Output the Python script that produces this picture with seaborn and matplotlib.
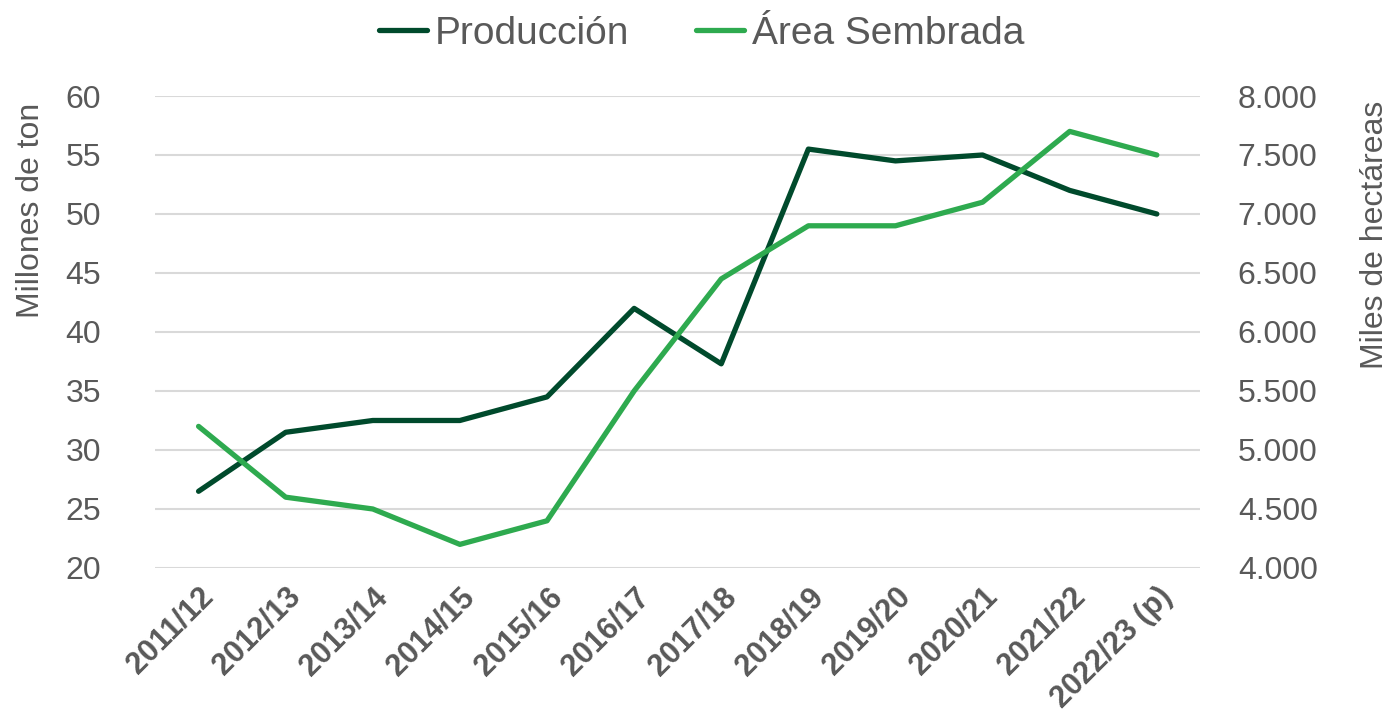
import matplotlib
matplotlib.use("Agg")
import matplotlib.pyplot as plt
import seaborn as sns
import pandas as pd
from matplotlib.ticker import FuncFormatter

campanas = ["2011/12", "2012/13", "2013/14", "2014/15", "2015/16", "2016/17",
            "2017/18", "2018/19", "2019/20", "2020/21", "2021/22", "2022/23 (p)"]
produccion = [26.5, 31.5, 32.5, 32.5, 34.5, 42.0, 37.3, 55.5, 54.5, 55.0, 52.0, 50.0]
area_sembrada = [5200, 4600, 4500, 4200, 4400, 5500, 6450, 6900, 6900, 7100, 7700, 7500]

df = pd.DataFrame({"campana": campanas, "produccion": produccion, "area": area_sembrada})
df["x"] = range(len(df))

sns.set_theme(style = "white")
plt.rcParams["font.family"] = ["Liberation Sans", "DejaVu Sans"]

txt = "#595959"
grid = "#D9D9D9"
c_prod = "#004A2C"
c_area = "#2EAA4F"

fig = plt.figure(figsize = (13.89, 7.24), dpi = 100)
ax = fig.add_axes([0.1116, 0.2155, 0.7526, 0.6519])
ax2 = ax.twinx()

sns.lineplot(data = df, x = "x", y = "produccion", ax = ax, color = c_prod,
             linewidth = 3.8, label = "Producción", legend = False)
sns.lineplot(data = df, x = "x", y = "area", ax = ax2, color = c_area,
             linewidth = 3.8, label = "Área Sembrada", legend = False)
for l in ax.lines + ax2.lines:
    l.set_solid_capstyle("round")
    l.set_solid_joinstyle("round")

ax.set_xlim(-0.5, len(df) - 0.5)
ax.set_ylim(20, 60)
ax.set_yticks(range(20, 61, 5))
ax2.set_ylim(4000, 8000)
ax2.set_yticks(range(4000, 8001, 500))
ax2.yaxis.set_major_formatter(FuncFormatter(lambda v, p: f"{int(v):,}".replace(",", ".")))

ax.yaxis.grid(True, color = grid, linewidth = 1.5)
ax.set_axisbelow(True)
for a in (ax, ax2):
    for s in a.spines.values():
        s.set_visible(False)
    a.tick_params(axis = "y", length = 0, labelsize = 23, labelcolor = txt)
ax.tick_params(axis = "y", pad = 39)
ax2.tick_params(axis = "y", pad = 27)

ax.set_xticks(df["x"])
ax.set_xticklabels(campanas, rotation = 45, ha = "right", rotation_mode = "anchor",
                   fontsize = 22, fontweight = "bold", color = txt)
ax.tick_params(axis = "x", length = 0, pad = 10)
ax.set_xlabel("")
ax.set_ylabel("Millones de ton", fontsize = 23, color = txt)
ax2.set_ylabel("Miles de hectáreas", fontsize = 23, color = txt)
# labels sit high on the axis, like the original
ax.yaxis.set_label_coords(-0.104, 0.757)
ax2.yaxis.set_label_coords(1.153, 0.705)

handles = ax.lines[:1] + ax2.lines[:1]
fig.legend(handles, ["Producción", "Área Sembrada"], loc = "center",
           bbox_to_anchor = (0.505, 0.953), ncol = 2, frameon = False,
           fontsize = 28, labelcolor = txt, handlelength = 1.25, handletextpad = 0.2,
           columnspacing = 1.7)

fig.savefig("out.png", dpi = 100)
